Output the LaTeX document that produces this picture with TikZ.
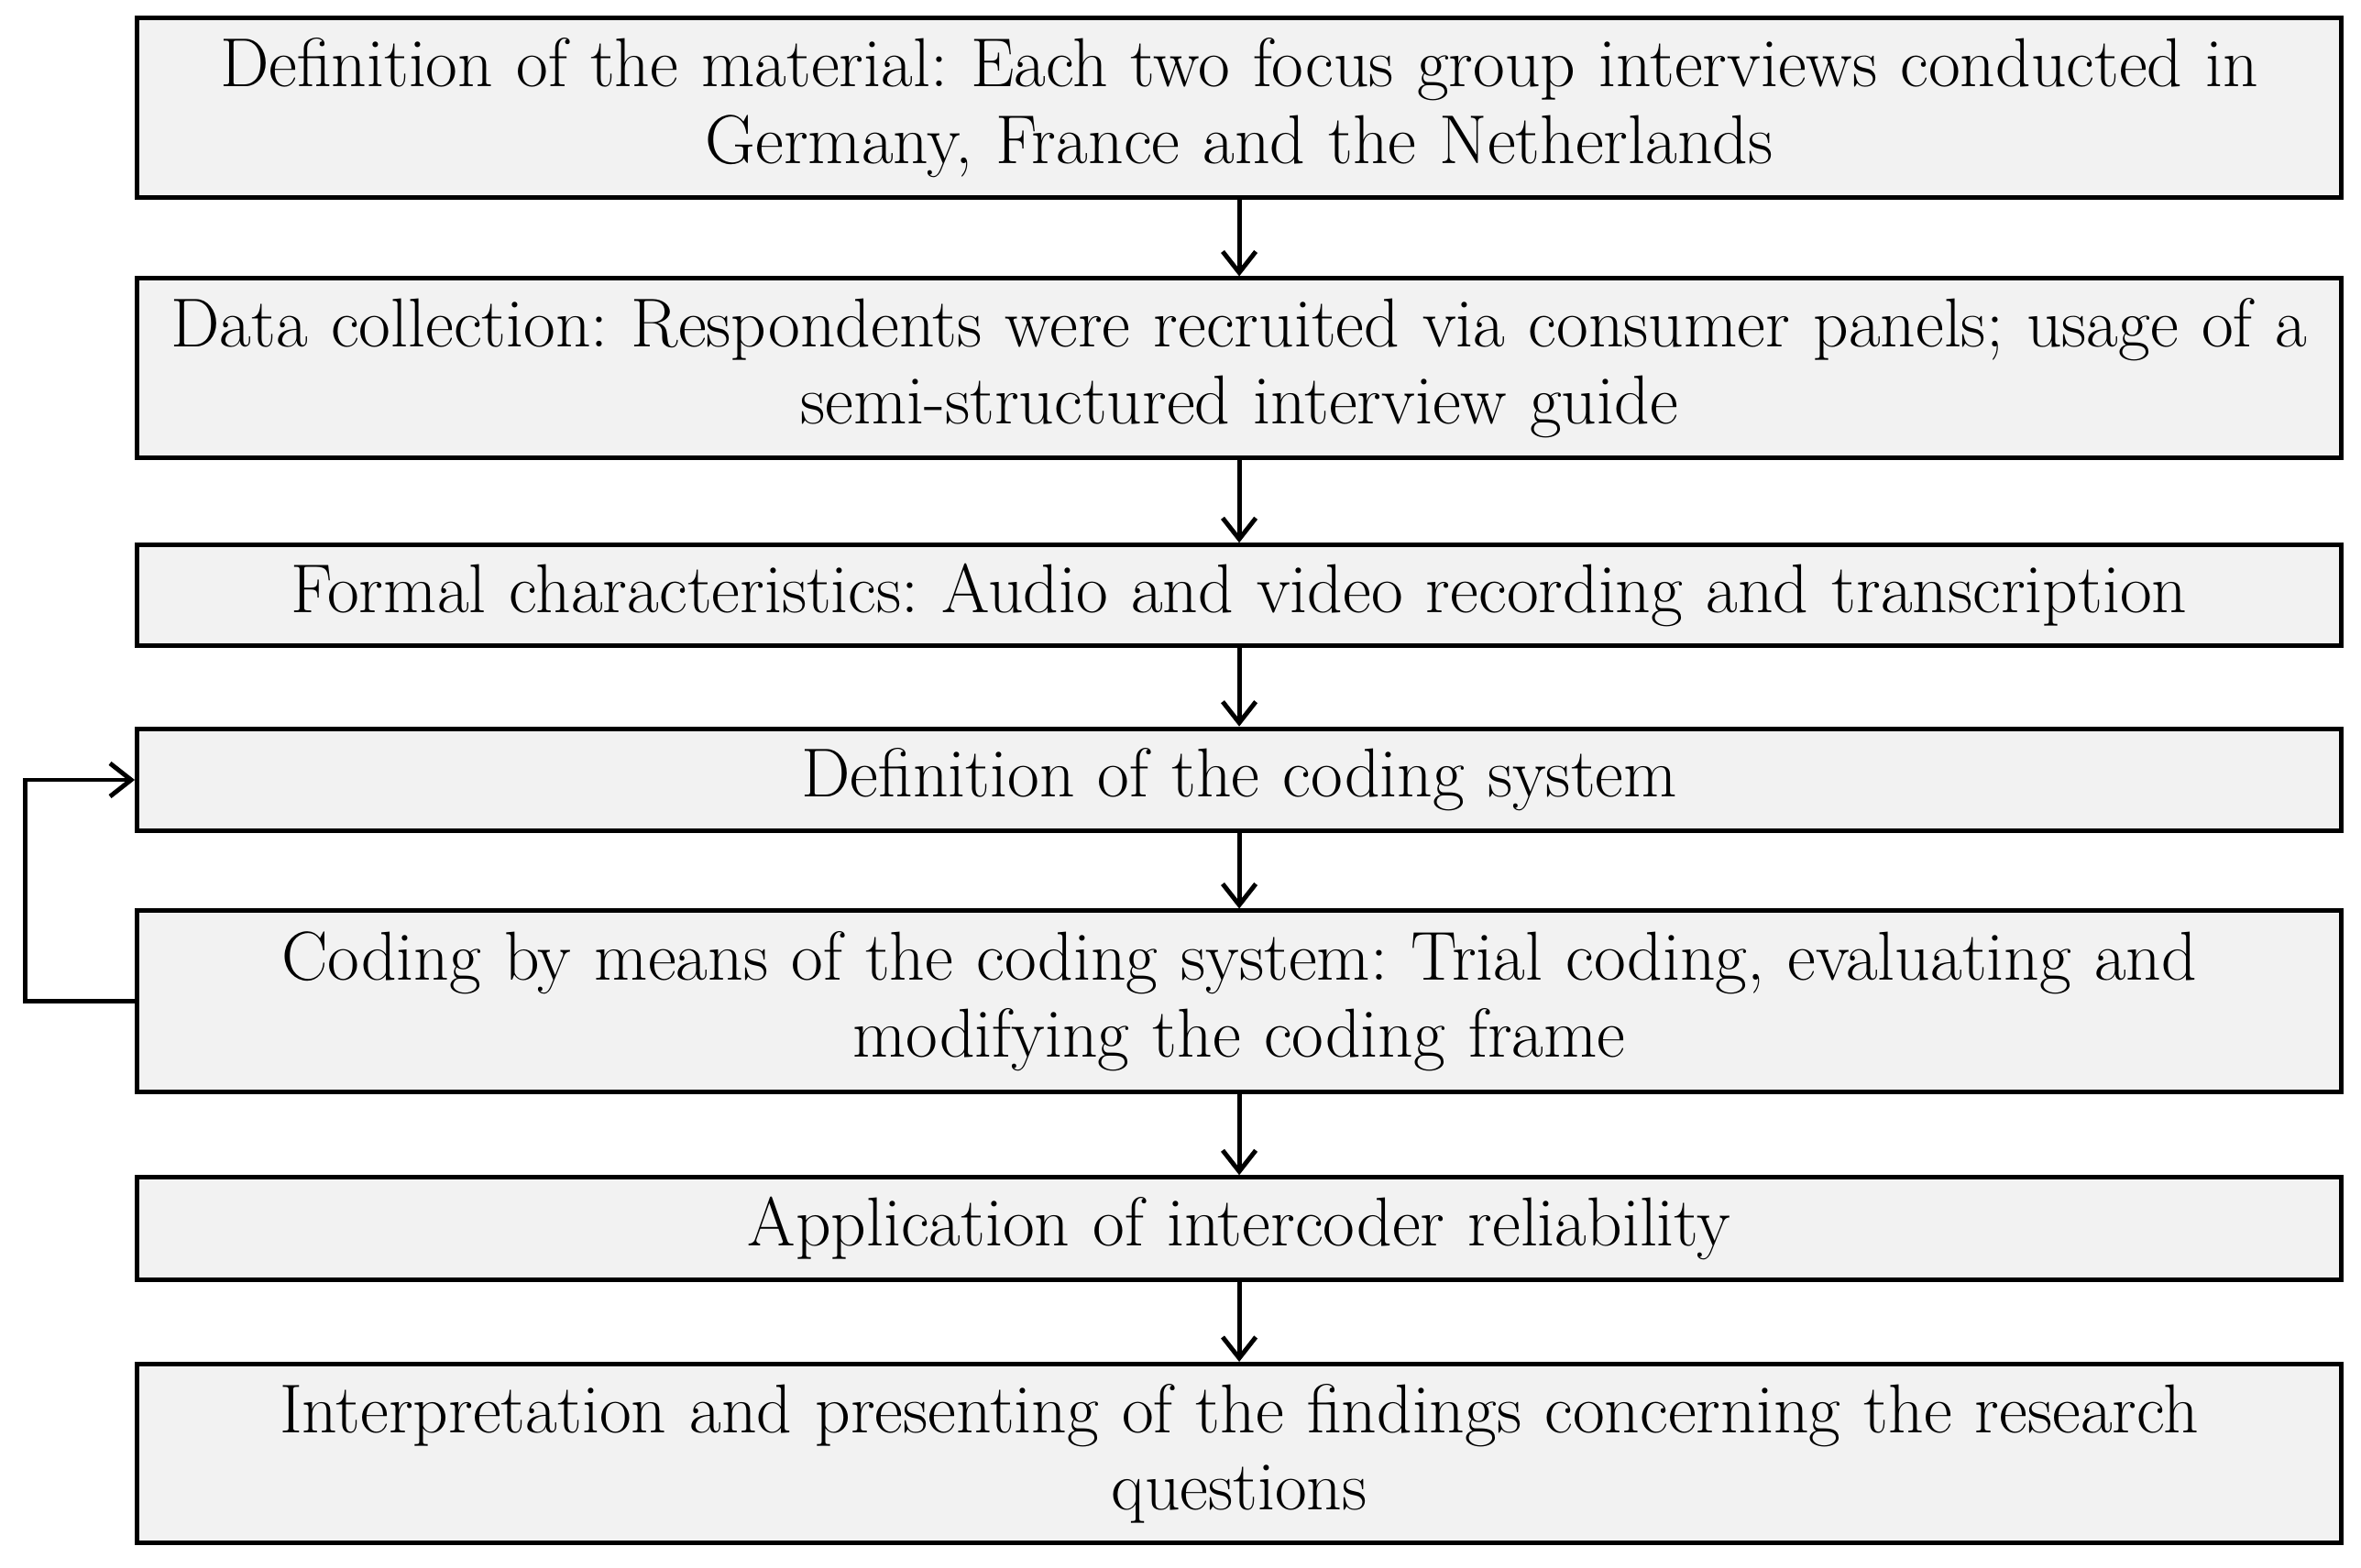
\documentclass[tikz,border=0pt]{standalone}
\usetikzlibrary{arrows.meta}
\definecolor{boxfill}{HTML}{F2F2F2}
\tikzset{
  x=1pt,y=1pt,
  stepbox/.style={draw=black, line width=3pt, fill=boxfill, minimum width=1464pt,
    text width=1450pt, align=center, inner sep=0pt, font=\fontsize{46}{51}\selectfont\frenchspacing},
  flow/.style={line width=3pt, -{Straight Barb[length=14pt,width=22pt,line width=3pt]}}
}
\begin{document}
\begin{tikzpicture}
\useasboundingbox (0,0) rectangle (1568,-1041);
\node[stepbox, minimum height=119pt] (b1) at (823,-71.5) {Definition of the material: Each two focus group interviews conducted in\\ Germany, France and the Netherlands};
\node[stepbox, minimum height=119pt] (b2) at (823,-244.5) {Data collection: Respondents were recruited via consumer panels; usage of a\\ semi-structured interview guide};
\node[stepbox, minimum height=67pt] (b3) at (823,-395.5) {Formal characteristics: Audio and video recording and transcription};
\node[stepbox, minimum height=68pt] (b4) at (823,-518) {Definition of the coding system};
\node[stepbox, minimum height=120pt] (b5) at (823,-665) {Coding by means of the coding system: Trial coding, evaluating and\\ modifying the coding frame};
\node[stepbox, minimum height=68pt] (b6) at (823,-816) {Application of intercoder reliability};
\node[stepbox, minimum height=119pt] (b7) at (823,-965.5) {Interpretation and presenting of the findings concerning the research\\ questions};
\draw[flow] (b1) -- (b2);
\draw[flow] (b2) -- (b3);
\draw[flow] (b3) -- (b4);
\draw[flow] (b4) -- (b5);
\draw[flow] (b5) -- (b6);
\draw[flow] (b6) -- (b7);
\coordinate (lp) at (17,0);
\draw[flow] (b5.west) -- (b5.west -| lp) -- (b4.west -| lp) -- (b4.west);
\end{tikzpicture}
\end{document}
